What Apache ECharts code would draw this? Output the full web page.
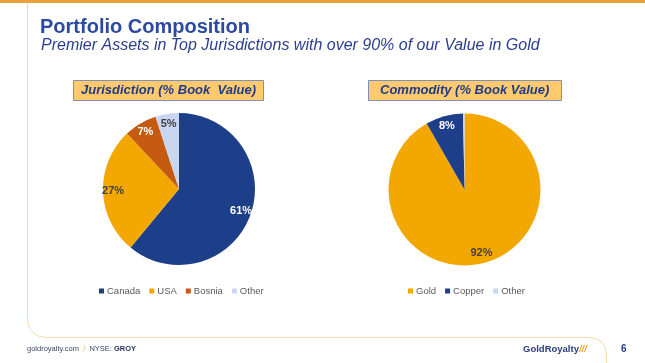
<!DOCTYPE html>
<html>
<head>
<meta charset="utf-8">
<script src="https://cdn.jsdelivr.net/npm/echarts@6/dist/echarts.min.js"></script>
<style>
html,body{margin:0;padding:0;background:#fff;}
#c{width:645px;height:363px;}
</style>
</head>
<body>
<div id="c"></div>
<script>
// ---- data ----
const jurisdictionNames = ['Canada', 'USA', 'Bosnia', 'Other'];
const jurisdictionValues = [61, 27, 7, 5];
const commodityNames = ['Gold', 'Copper', 'Other'];
const commodityValues = [91.7, 8, 0.3];

// ---- styles ----
const colorsJ = { Canada: '#1d3f8a', USA: '#f2a800', Bosnia: '#c55a11', Other: '#c8d6ef' };
const colorsC = { Gold: '#f2a800', Copper: '#1d3f8a', Other: '#c8d6ef' };
const labelColJ = { Canada: '#ffffff', USA: '#404040', Bosnia: '#ffffff', Other: '#404040' };
const labelColC = { Gold: '#404040', Copper: '#ffffff', Other: '#404040' };

function build(names, values, colors) {
  return names.map((n, i) => ({ name: n, value: values[i], itemStyle: { color: colors[n] } }));
}
function buildLabels(names, values, labelCols) {
  return names.map((n, i) => ({
    name: n, value: values[i],
    label: { color: labelCols[n], show: Math.round(values[i]) >= 1 }
  }));
}

const chart = echarts.init(document.getElementById('c'), null, { renderer: 'canvas' });
const FONT = 'Liberation Sans, Arial, sans-serif';
const R = 76;
const BORDER = { stroke: '#f5dcb0', lineWidth: 1, fill: null };

const labelCommon = {
  position: 'inside',
  fontFamily: FONT,
  fontSize: 11,
  fontWeight: 'bold',
  formatter: p => Math.round(p.value) + '%'
};
const legendText = { fontFamily: FONT, fontSize: 9.5, color: '#595959', padding: [0, 0, 0, -2] };

chart.setOption({
  backgroundColor: '#ffffff',
  animation: false,
  title: [
    { text: 'Portfolio Composition', left: 40, top: 17,
      textStyle: { fontFamily: FONT, fontSize: 20, fontWeight: 'bold', color: '#2c4aa0' }, padding: 0 },
    { text: 'Premier Assets in Top Jurisdictions with over 90% of our Value in Gold', left: 41, top: 38,
      textStyle: { fontFamily: FONT, fontSize: 16, fontStyle: 'italic', fontWeight: 'normal', color: '#2a3f8f' }, padding: 0 },
    { text: 'Jurisdiction (% Book  Value)', left: 73, top: 80,
      backgroundColor: '#ffc96e', borderColor: '#8090b8', borderWidth: 1, padding: [3, 8, 3, 8],
      textStyle: { fontFamily: FONT, fontSize: 13, fontStyle: 'italic', fontWeight: 'bold', color: '#1f3c88', lineHeight: 15 } },
    { text: 'Commodity (% Book Value)', left: 368, top: 80,
      backgroundColor: '#ffc96e', borderColor: '#8090b8', borderWidth: 1, padding: [3, 12, 3, 12],
      textStyle: { fontFamily: FONT, fontSize: 13, fontStyle: 'italic', fontWeight: 'bold', color: '#1f3c88', lineHeight: 15 } }
  ],
  legend: [
    { data: jurisdictionNames, left: 99, top: 286, padding: 0, itemWidth: 5, itemHeight: 5, itemGap: 9, icon: 'rect',
      selectedMode: false, textStyle: legendText },
    { data: commodityNames, left: 408, top: 286, padding: 0, itemWidth: 5, itemHeight: 5, itemGap: 9, icon: 'rect',
      selectedMode: false, textStyle: legendText }
  ],
  series: [
    { type: 'pie', name: 'Jurisdiction', center: [179, 189], radius: [0, R], startAngle: 90, clockwise: true,
      label: { show: false }, labelLine: { show: false }, silent: true,
      data: build(jurisdictionNames, jurisdictionValues, colorsJ) },
    { type: 'pie', name: 'Commodity', center: [464.5, 189.5], radius: [0, R], startAngle: 90, clockwise: true,
      label: { show: false }, labelLine: { show: false }, silent: true,
      data: build(commodityNames, commodityValues, colorsC) },
    { type: 'pie', name: 'JurisdictionLabels', center: [179, 189], radius: [50, R], startAngle: 90, clockwise: true,
      itemStyle: { color: 'rgba(0,0,0,0)' }, label: labelCommon, labelLine: { show: false }, silent: true,
      data: buildLabels(jurisdictionNames, jurisdictionValues, labelColJ) },
    { type: 'pie', name: 'CommodityLabels', center: [464.5, 189.5], radius: [50, R], startAngle: 90, clockwise: true,
      itemStyle: { color: 'rgba(0,0,0,0)' }, label: labelCommon, labelLine: { show: false }, silent: true,
      data: buildLabels(commodityNames, commodityValues, labelColC) }
  ],
  graphic: [
    { type: 'rect', shape: { x: 0, y: 0, width: 645, height: 3 }, style: { fill: '#e9a23b' }, silent: true },
    { type: 'line', shape: { x1: 27.5, y1: 3, x2: 27.5, y2: 317 }, style: BORDER, silent: true },
    { type: 'bezierCurve', shape: { x1: 27.5, y1: 317, cpx1: 27.5, cpy1: 337.5, x2: 48, y2: 337.5 }, style: BORDER, silent: true },
    { type: 'line', shape: { x1: 48, y1: 337.5, x2: 588, y2: 337.5 }, style: BORDER, silent: true },
    { type: 'bezierCurve', shape: { x1: 588, y1: 337.5, cpx1: 606.5, cpy1: 337.5, x2: 606.5, y2: 356 }, style: BORDER, silent: true },
    { type: 'line', shape: { x1: 606.5, y1: 356, x2: 606.5, y2: 363 }, style: BORDER, silent: true },
    { type: 'text', left: 27, top: 345,
      style: { text: '{a|goldroyalty.com}{s|  /  }{a|NYSE: }{b|GROY}',
        rich: {
          a: { fontFamily: FONT, fontSize: 7.5, fill: '#3d4766' },
          s: { fontFamily: FONT, fontSize: 7.5, fill: '#e9a23b' },
          b: { fontFamily: FONT, fontSize: 7.5, fill: '#2c3560', fontWeight: 'bold' }
        } }, silent: true },
    { type: 'text', left: 523, top: 344,
      style: { text: '{a|GoldRoyalty}{b|///}',
        rich: {
          a: { fontFamily: FONT, fontSize: 9.5, fontWeight: 'bold', fill: '#2a3d7e' },
          b: { fontFamily: FONT, fontSize: 9.5, fontWeight: 'bold', fontStyle: 'italic', fill: '#f2a21b' }
        } }, silent: true },
    { type: 'text', left: 621, top: 344,
      style: { text: '6', fontFamily: FONT, fontSize: 10, fontWeight: 'bold', fill: '#2a3d7e' }, silent: true }
  ]
});
</script>
</body>
</html>
